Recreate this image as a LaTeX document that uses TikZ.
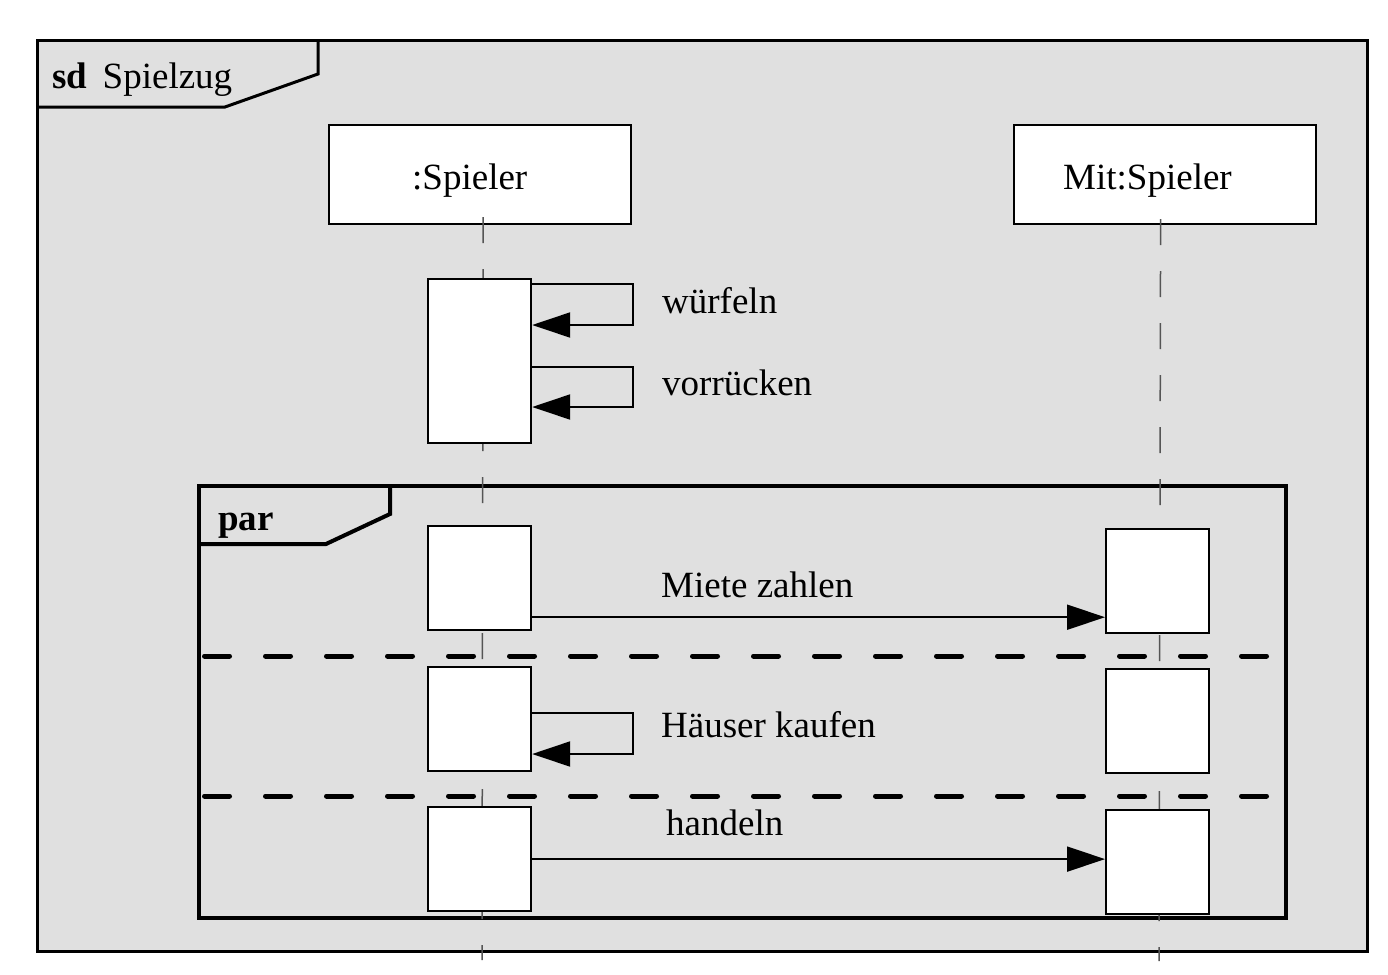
\documentclass[tikz,border=0pt]{standalone}
\usepackage{fontspec}
\setmainfont{Liberation Serif}
\usetikzlibrary{arrows.meta}
\definecolor{framegray}{RGB}{224,224,224}
\definecolor{lifegray}{RGB}{85,85,85}
\begin{document}
\begin{tikzpicture}[x=1pt,y=-1pt,
  txt/.style={font=\fontsize{37}{40}\selectfont, inner sep=0pt, anchor=base west},
  headbox/.style={draw, line width=2.2pt, fill=white, inner sep=0pt, minimum width=302pt, minimum height=99pt, anchor=north west},
  actbox/.style={draw, line width=2.2pt, fill=white, inner sep=0pt, minimum width=103pt, minimum height=104pt, anchor=north west},
  lifeline/.style={draw=lifegray, line width=1.5pt, dash pattern=on 26pt off 26pt},
  msg/.style={line width=2pt, -{Triangle[length=38pt,width=25pt]}},
  sepline/.style={line width=5pt, line cap=round, dash pattern=on 25pt off 36pt, dash phase=-2.5pt},
  framel/.style={line width=3pt},
  parl/.style={line width=4pt},
]
\useasboundingbox (0,0) rectangle (1388,974);
% outer frame
\draw[framel, fill=framegray] (37,41) rectangle (1367,951);
\draw[framel] (318,41) -- (318,74) -- (225,107) -- (37,107);
\node[txt] (sdlabel) at (52,88) {\textbf{sd}\hspace{0.42em}Spielzug};
% par frame
\draw[parl] (199,486) rectangle (1286,918);
\draw[parl] (390,486) -- (390,514) -- (326,544) -- (199,544);
\node[txt] (parlabel) at (218,530) {\textbf{par}};
% separators
\draw[sepline] (202,656) -- (1268,656);
\draw[sepline] (202,796) -- (1268,796);
% heads
\node[headbox] (h1) at (328,124) {};
\node[headbox] (h2) at (1013,124) {};
\node[txt] (h1t) at (412,189) {:Spieler};
\node[txt] (h2t) at (1063,189) {Mit:Spieler};
% lifelines
\coordinate (e1) at (482,960);
\coordinate (e2) at (1159,961);
\draw[lifeline] ([xshift=3pt,yshift=8pt]h1.south) -- (e1);
\draw[lifeline] ([xshift=-4.5pt,yshift=6pt]h2.south) -- (e2);
% activations
\node[actbox, minimum height=164pt] (a1) at (427,278) {};
\node[actbox] (a2) at (427,525) {};
\node[actbox] (a3) at (427,666) {};
\node[actbox] (a4) at (427,806) {};
\node[actbox] (b1) at (1105,528) {};
\node[actbox] (b2) at (1105,668) {};
\node[actbox] (b3) at (1105,809) {};
% messages
\draw[msg] ([yshift=-6pt]a1.north east) -- ++(101,0) |- ([yshift=-47pt]a1.north east);
\node[txt] (m1t) at (662,313) {würfeln};
\draw[msg] ([yshift=-89pt]a1.north east) -- ++(101,0) |- ([yshift=-129pt]a1.north east);
\node[txt] (m2t) at (662,395) {vorrücken};
\draw[msg] ([yshift=14pt]a2.south east) coordinate (m3s) -- (b1.west |- m3s);
\node[txt] (m3t) at (661,597) {Miete zahlen};
\draw[msg] ([yshift=-47pt]a3.north east) -- ++(101,0) |- ([yshift=-88pt]a3.north east);
\node[txt] (m4t) at (661,737) {Häuser kaufen};
\draw[msg] (a4.east) -- (b3.west |- a4.east);
\node[txt] (m5t) at (666,835) {handeln};
\end{tikzpicture}
\end{document}
